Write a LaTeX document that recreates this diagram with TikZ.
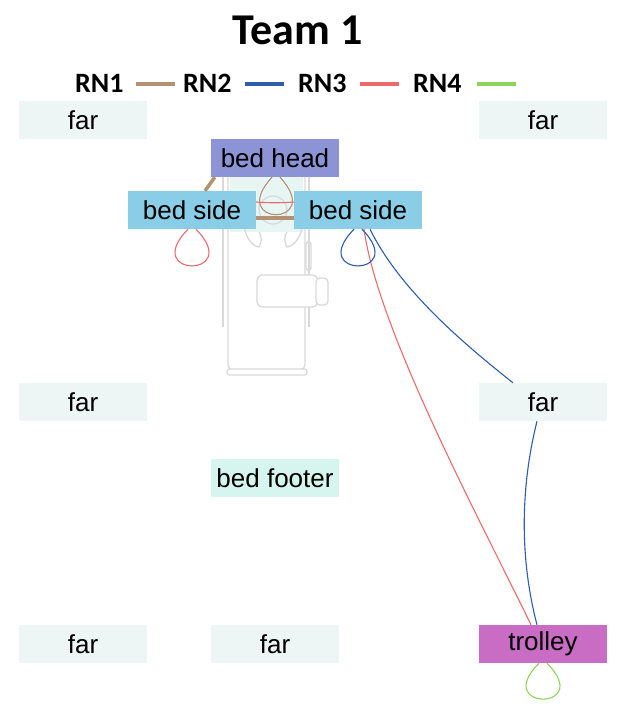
\documentclass[tikz,border=0pt]{standalone}
\usepackage{fontspec}
\setmainfont{Liberation Sans}
\newfontfamily\titlefont{Carlito}
\definecolor{farc}{HTML}{EEF5F5}
\definecolor{headc}{HTML}{8C94D6}
\definecolor{sidec}{HTML}{89CDE6}
\definecolor{footc}{HTML}{D6F5EE}
\definecolor{trolc}{HTML}{C86CC4}
\definecolor{rnone}{HTML}{B39274}
\definecolor{rntwo}{HTML}{2E5DAA}
\definecolor{rnthree}{HTML}{EE6A6A}
\definecolor{rnfour}{HTML}{8ED35A}
\definecolor{bedline}{HTML}{D9D9D9}
\definecolor{pillow}{HTML}{E8F6F3}
\begin{document}
\begin{tikzpicture}[x=1pt,y=-1pt,
  zone/.style={minimum width=128pt,minimum height=38pt,inner sep=0pt,
    font=\fontsize{26}{30}\selectfont},
  legtxt/.style={anchor=base west,inner sep=0pt,font=\titlefont\bfseries\fontsize{28}{32}\selectfont},
  legline/.style={line width=4pt},
  thinedge/.style={line width=1.1pt},
  thickedge/.style={line width=3.5pt,color=rnone},
  bedstroke/.style={draw=bedline,line width=1.3pt}]
\useasboundingbox (0,0) rectangle (624,716);
\fill[white] (0,0) rectangle (624,716);
% title
\node[anchor=base,inner sep=0pt,font=\titlefont\bfseries\fontsize{44}{48}\selectfont] (title) at (297.5,44) {Team 1};
% legend
\node[legtxt] (l1) at (75,92) {RN1};
\node[legtxt] (l2) at (183,92) {RN2};
\node[legtxt] (l3) at (298,92) {RN3};
\node[legtxt] (l4) at (413,92) {RN4};
\draw[legline,rnone] (136,84) -- (175,84);
\draw[legline,rntwo] (245,84) -- (284,84);
\draw[legline,rnthree] (360,84) -- (399,84);
\draw[legline,rnfour] (477,84) -- (516,84);
% bed drawing (background)
\draw[bedstroke] (223,177) -- (223,327);
\draw[bedstroke] (309,177) -- (309,327);
\draw[bedstroke,fill=white,rounded corners=5pt] (228,172) rectangle (305,370);
\fill[pillow] (230,174) rectangle (303,232);
\draw[bedstroke,rounded corners=2pt] (306,242) rectangle (311,270);
\draw[bedstroke,rounded corners=2.5pt,fill=white] (227,369) rectangle (307,375);
\draw[bedstroke] (273,210) circle (14);
\draw[bedstroke] (244,226) .. controls (246,238) and (252,246) .. (259,247) .. controls (262,242) and (262,236) .. (259,232);
\draw[bedstroke] (303,226) .. controls (300,238) and (294,246) .. (287,247) .. controls (284,242) and (284,236) .. (287,232);
\draw[bedstroke,fill=white,rounded corners=6pt] (257,275) rectangle (318,307);
\draw[bedstroke,fill=white,rounded corners=4pt] (316,278) rectangle (328,305);
% zones
\node[zone,fill=farc] (ftl) at (83,120) {far};
\node[zone,fill=farc] (ftr) at (543,120) {far};
\node[zone,fill=headc] (bh) at (275,158) {bed head};
\node[zone,fill=sidec] (bsl) at (192,210) {bed side};
\node[zone,fill=sidec] (bsr) at (358,210) {bed side};
\node[zone,fill=farc] (fml) at (83,402) {far};
\node[zone,fill=farc] (fmr) at (543,402) {far};
\node[zone,fill=footc] (bf) at (275,478) {bed footer};
\node[zone,fill=farc] (fbl) at (83,644) {far};
\node[zone,fill=farc] (fbm) at (275,644) {far};
\node[zone,fill=trolc] (tr) at (543,644) {trolley};
% RN1 (brown)
\draw[thickedge] ([xshift=4pt]bh.south west) -- ([xshift=13pt]bsl.north);
\draw[thickedge] ([yshift=-8pt]bsl.east) -- ([yshift=-8pt]bsr.west);
\draw[thinedge,rnone] ([xshift=-3pt]bh.south) .. controls +(-46,50) and +(46,50) .. ([xshift=5pt]bh.south);
% RN3 (red)
\draw[thinedge,rnthree] ([yshift=8pt]bsl.east) .. controls +(12,1) and +(-12,1) .. ([yshift=8pt]bsr.west);
\draw[thinedge,rnthree] ([xshift=-4pt]bsl.south) .. controls +(-48,49) and +(48,49) .. ([xshift=4pt]bsl.south);
\draw[thinedge,rnthree] ([xshift=6pt]bsr.south) .. controls +(14,101) and +(-51,-105) .. ([xshift=-12pt]tr.north);
% RN2 (blue)
\draw[thinedge,rntwo] ([xshift=-4pt]bsr.south) .. controls +(-48,49) and +(48,49) .. ([xshift=4pt]bsr.south);
\draw[thinedge,rntwo] ([xshift=12pt]bsr.south) .. controls +(30,61) and +(-48,-38) .. ([xshift=-30pt]fmr.north);
\draw[thinedge,rntwo] ([xshift=-6pt]fmr.south) .. controls +(-17,68) and +(-17,-65) .. ([xshift=-6pt]tr.north);
% RN4 (green)
\draw[thinedge,rnfour] ([xshift=-4pt]tr.south) .. controls +(-48,48) and +(48,48) .. ([xshift=4pt]tr.south);
\end{tikzpicture}
\end{document}
